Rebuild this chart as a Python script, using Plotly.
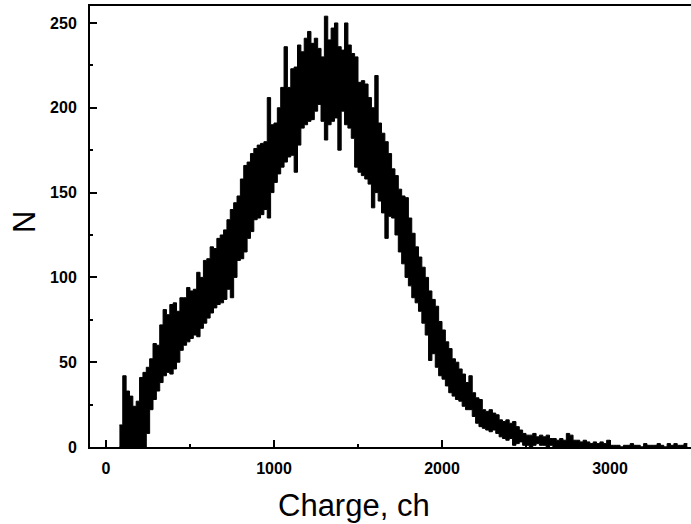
import plotly.graph_objects as go

# Channel blocks (20 channels each): centre channel, and the highest / lowest
# count seen inside each block.
block_width = 20
block_center = list(range(90, 3451, 20))

n_max = [
    13, 42, 33, 30, 24, 27, 41, 44, 47, 52,
    61, 60, 72, 81, 78, 84, 85, 80, 88, 88,
    94, 92, 93, 103, 100, 110, 111, 118, 117, 123,
    125, 128, 134, 140, 144, 148, 158, 166, 168, 173,
    176, 178, 179, 180, 206, 190, 191, 200, 212, 236,
    212, 223, 224, 237, 233, 241, 245, 238, 241, 235,
    230, 254, 240, 247, 250, 236, 234, 250, 237, 232,
    230, 215, 216, 214, 206, 200, 219, 191, 185, 180,
    173, 164, 160, 152, 148, 147, 135, 126, 118, 112,
    106, 100, 92, 87, 83, 74, 69, 62, 58, 52,
    50, 46, 43, 38, 42, 32, 29, 28, 22, 21,
    22, 20, 19, 16, 15, 16, 14, 15, 12, 10,
    8, 7, 7, 8, 6, 7, 6, 7, 5, 5,
    4, 5, 4, 8, 7, 4, 4, 3, 4, 3,
    2, 3, 2, 3, 2, 4, 1, 1, 1, 0,
    1, 1, 2, 1, 1, 0, 2, 1, 1, 1,
    2, 1, 0, 2, 1, 2, 1, 1, 2,
]

n_min = [
    0, 0, 0, 0, 0, 0, 0, 0, 8, 22,
    28, 33, 38, 42, 44, 43, 46, 50, 57, 60,
    62, 64, 66, 65, 70, 73, 76, 79, 82, 84,
    85, 87, 93, 88, 100, 110, 111, 115, 123, 127,
    134, 135, 137, 140, 135, 150, 156, 161, 165, 168,
    171, 172, 162, 178, 188, 190, 192, 193, 198, 202,
    192, 181, 190, 192, 194, 175, 198, 190, 188, 182,
    165, 162, 160, 158, 155, 141, 150, 145, 138, 123,
    136, 135, 125, 115, 108, 100, 95, 88, 85, 80,
    73, 66, 51, 55, 47, 42, 40, 36, 32, 30,
    28, 27, 24, 22, 22, 18, 14, 12, 11, 10,
    9, 10, 8, 6, 5, 4, 5, 1, 2, 3,
    1, 1, 0, 1, 2, 1, 1, 0, 1, 0,
    0, 0, 0, 0, 0, 0, 0, 0, 0, 0,
    0, 0, 0, 0, 0, 0, 0, 0, 0, 0,
    0, 0, 0, 0, 0, 0, 0, 0, 0, 0,
    0, 0, 0, 0, 0, 0, 0, 0, 0,
]

x_tick_vals = [0, 1000, 2000, 3000]
x_minor_vals = [500, 1500, 2500]
y_tick_vals = [0, 50, 100, 150, 200, 250]
y_minor_vals = [25, 75, 125, 175, 225]

x_title = "Charge, ch"
y_title = "N"

# step edges: each block spans [centre - w/2, centre + w/2]
edges = [c - block_width / 2 for c in block_center] + [block_center[-1] + block_width / 2]
lo_steps = n_min + [n_min[-1]]
hi_steps = n_max + [n_max[-1]]

fig = go.Figure()
fig.add_trace(go.Scatter(
    x=edges, y=lo_steps, mode="lines", line=dict(shape="hv", color="black", width=1),
    hoverinfo="skip",
))
fig.add_trace(go.Scatter(
    x=edges, y=hi_steps, mode="lines", line=dict(shape="hv", color="black", width=1),
    fill="tonexty", fillcolor="black", hoverinfo="skip",
))

tick_font = dict(family="Liberation Sans", size=16, color="black", weight="bold")

fig.update_layout(
    width=691, height=524,
    margin=dict(l=90, r=0, t=6, b=77, autoexpand=False),
    plot_bgcolor="white", paper_bgcolor="white",
    showlegend=False,
)
fig.update_xaxes(
    range=[-95, 3482], showline=True, linecolor="black", linewidth=2, mirror=True,
    ticks="inside", ticklen=7, tickwidth=2, tickcolor="black",
    tickvals=x_tick_vals, showgrid=False, zeroline=False, automargin=False,
    tickfont=tick_font, ticklabelstandoff=6,
    minor=dict(ticks="inside", ticklen=3, tickwidth=2, tickcolor="black",
               tickvals=x_minor_vals, showgrid=False),
)
fig.update_yaxes(
    range=[0, 260], showline=True, linecolor="black", linewidth=2, mirror=False,
    ticks="inside", ticklen=7, tickwidth=2, tickcolor="black",
    tickvals=y_tick_vals, showgrid=False, zeroline=False, automargin=False,
    tickfont=tick_font, ticklabelstandoff=8,
    minor=dict(ticks="inside", ticklen=3, tickwidth=2, tickcolor="black",
               tickvals=y_minor_vals, showgrid=False),
)

title_font = dict(family="Liberation Sans", size=31, color="black")
fig.add_annotation(text=x_title, xref="paper", yref="paper",
                   x=(353.5 - 90) / 601, y=(447 - 505) / 441,
                   xanchor="center", yanchor="middle", showarrow=False,
                   font=title_font)
fig.add_annotation(text=y_title, xref="paper", yref="paper",
                   x=(24 - 90) / 601, y=(447 - 222) / 441, textangle=-90,
                   xanchor="center", yanchor="middle", showarrow=False,
                   font=title_font)

fig.write_html(
    "out.html",
    config={"displayModeBar": False},
    post_script="document.body.style.margin='0';document.body.style.overflow='hidden';",
)
